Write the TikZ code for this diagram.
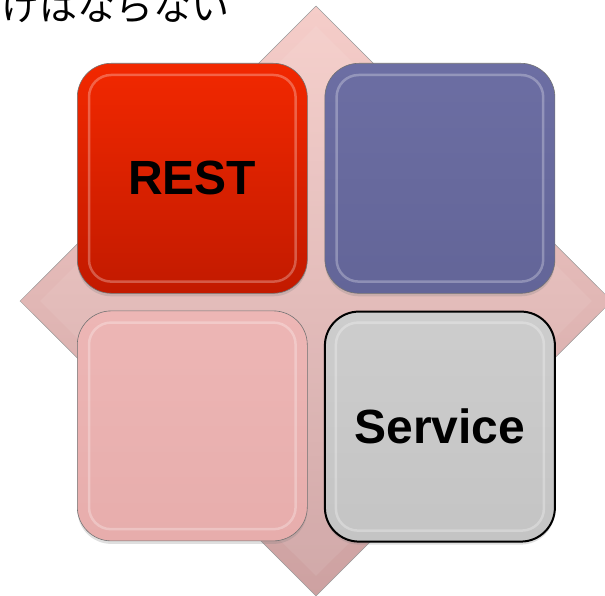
\documentclass[tikz,border=0pt]{standalone}
\usepackage{fontspec}
\usepackage{xcolor}
\usepackage{tikz}
\usetikzlibrary{positioning,shapes.geometric,shadows}
\newfontfamily\tilefont{Liberation Sans}
\newfontfamily\jpfont{Noto Sans CJK JP}
\definecolor{redtop}{HTML}{F22800}
\definecolor{redbot}{HTML}{C21A00}
\definecolor{bluetop}{HTML}{6C6EA3}
\definecolor{bluebot}{HTML}{636598}
\definecolor{pinktop}{HTML}{EDB6B5}
\definecolor{pinkbot}{HTML}{E7ADAC}
\definecolor{greytop}{HTML}{CDCDCD}
\definecolor{greybot}{HTML}{C4C4C4}
\definecolor{diatop}{HTML}{F5CDC9}
\definecolor{diabot}{HTML}{CDA1A1}

\begin{document}
\begin{tikzpicture}[
  x=1pt, y=-1pt,
  node distance=17pt and 17pt,
  tile/.style={rectangle, rounded corners=34pt, minimum width=230pt, minimum height=230pt, inner sep=0pt,
    draw=black!55, line width=0.6pt, font=\tilefont\bfseries\fontsize{48}{48}\selectfont,
    drop shadow={shadow xshift=0pt, shadow yshift=-3pt, opacity=0.25}},
  ring/.style={rounded corners=22pt, draw=white, line width=2.5pt, opacity=0.28},
  bg/.style={diamond, aspect=1, inner sep=0pt, minimum width=592pt, minimum height=590pt}
]
\useasboundingbox (0,0) rectangle (605,596);
\node[font=\jpfont\fontsize{38}{38}\selectfont, anchor=base east] (title) at (233,21) {けはならない};
\node[bg, draw=black!40, line width=0.5pt, top color=diatop, bottom color=diabot] (dia) at (316,301) {};
\node[bg, minimum width=552pt, minimum height=550pt, fill=white, opacity=0.08] (diain) at (316,301) {};
\node[tile, top color=redtop, bottom color=redbot, anchor=north west] (rest) at (77,63) {REST};
\node[tile, top color=bluetop, bottom color=bluebot, right=of rest] (blue) {};
\node[tile, top color=pinktop, bottom color=pinkbot, below=of rest] (pink) {};
\node[tile, top color=greytop, bottom color=greybot, draw=black, line width=2pt, below=of blue] (service) {Service};
\foreach \t in {rest,blue,pink,service}
  \draw[ring] ([shift={(12pt,-12pt)}]\t.north west) rectangle ([shift={(-12pt,12pt)}]\t.south east);
\end{tikzpicture}
\end{document}
